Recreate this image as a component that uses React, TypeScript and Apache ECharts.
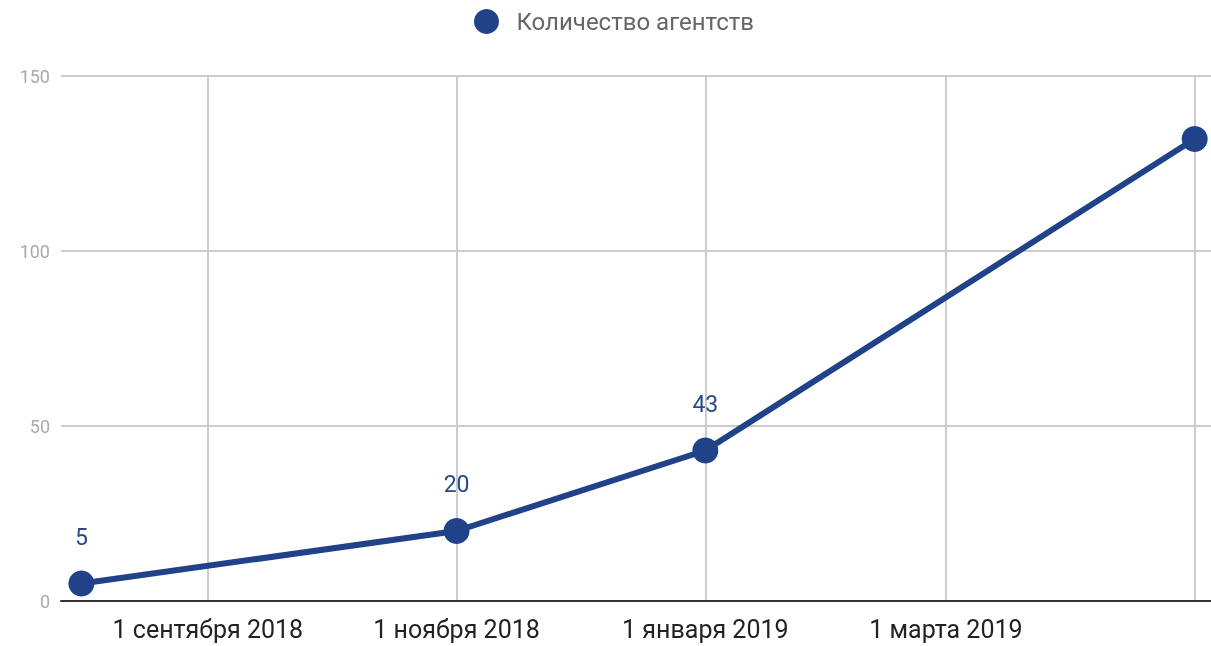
import React, { useEffect, useRef } from "react";
import * as echarts from "echarts";

const seriesName = "Количество агентств";
const pointDates: [number, number, number][] = [
  [2018, 8, 1],
  [2018, 11, 1],
  [2019, 1, 1],
  [2019, 5, 1],
];
const agencyCounts = [5, 20, 43, 132];
const xTickDates: [number, number, number][] = [
  [2018, 9, 1],
  [2018, 11, 1],
  [2019, 1, 1],
  [2019, 3, 1],
  [2019, 5, 1],
];
const xTickLabels = ["1 сентября 2018", "1 ноября 2018", "1 января 2019", "1 марта 2019", ""];
const yTicks = [0, 50, 100, 150];
const xRange: [number, number, number][] = [
  [2018, 7, 27],
  [2019, 5, 5],
];

const ts = (d: [number, number, number]) => Date.UTC(d[0], d[1] - 1, d[2]);

export default function App() {
  const ref = useRef<HTMLDivElement>(null);
  useEffect(() => {
    if (!ref.current) return;
    const chart = echarts.init(ref.current, undefined, { renderer: "svg" });
    const tickTs = xTickDates.map(ts);
    const labelMap = new Map<number, string>();
    tickTs.forEach((t, i) => labelMap.set(t, xTickLabels[i]));
    const color = "#1f4289";
    chart.setOption({
      animation: false,
      textStyle: { fontFamily: "Roboto" },
      legend: {
        top: 4,
        left: 469,
        icon: "circle",
        itemWidth: 50,
        itemHeight: 25,
        symbolKeepAspect: true,
        textStyle: { fontSize: 24, color: "#666", fontFamily: "Roboto" },
        data: [seriesName],
      },
      grid: { left: 61, right: 0, top: 76, bottom: 45, containLabel: false },
      xAxis: {
        type: "value",
        min: ts(xRange[0]),
        max: ts(xRange[1]),
        axisLine: { show: true, lineStyle: { color: "#333", width: 2 } },
        axisTick: { show: false, customValues: tickTs },
        splitLine: { show: true, lineStyle: { color: "#ccc", width: 2 } },
        axisLabel: {
          customValues: tickTs.slice(0, 4),
          formatter: (v: number) => labelMap.get(v) ?? "",
          fontSize: 25,
          color: "#222",
          margin: 16,
          fontFamily: "Roboto",
        },
      },
      yAxis: {
        type: "value",
        min: yTicks[0],
        max: yTicks[yTicks.length - 1],
        interval: 50,
        axisLine: { show: false },
        axisTick: { show: false },
        splitLine: { show: true, lineStyle: { color: "#ccc", width: 2 } },
        axisLabel: { fontSize: 18, color: "#aaa", margin: 11, fontFamily: "Roboto" },
      },
      series: [
        {
          name: seriesName,
          type: "line",
          color,
          symbol: "circle",
          symbolSize: 26,
          lineStyle: { width: 6, color },
          itemStyle: { color },
          data: pointDates.map((d, i) => ({
            value: [ts(d), agencyCounts[i]],
            label: { show: i < pointDates.length - 1 },
          })),
          label: {
            show: true,
            position: "top",
            distance: 22,
            fontSize: 23,
            color: "#2a4a88",
            fontFamily: "Roboto",
            formatter: (p: any) => String(p.value[1]),
          },
        },
      ],
    });
    return () => chart.dispose();
  }, []);
  return <div ref={ref} style={{ position: "fixed", left: 0, top: 0, width: 1211, height: 646 }} />;
}
